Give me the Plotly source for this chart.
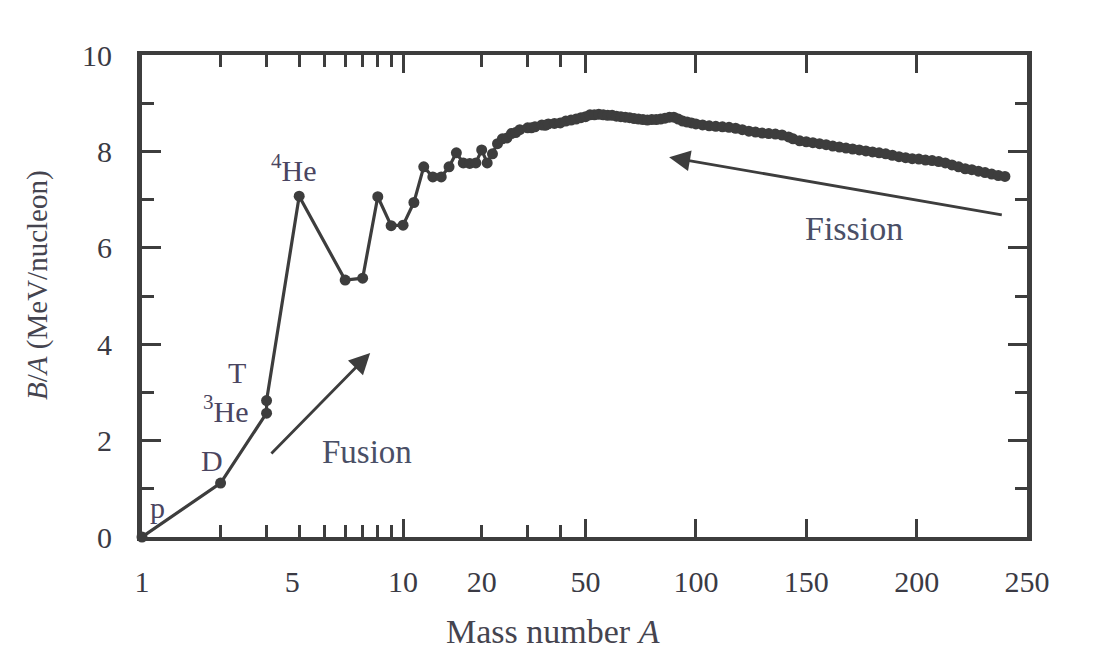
import numpy as np
import plotly.graph_objects as go

# ---------------- data ----------------
mass_number = [1, 2, 3, 3, 4, 6, 7, 8, 9, 10, 11, 12, 13, 14, 15, 16, 17, 18, 19, 20,
               21, 22, 23, 24, 25, 26, 27, 28, 30, 31, 32, 34, 35, 36, 38, 40, 42, 44,
               46, 48, 50, 52, 54, 56, 58, 60, 62, 64, 66, 68, 70, 72, 74, 76, 78, 80,
               82, 84, 86, 88, 90, 92, 94, 96, 98, 100, 103, 106, 109, 112, 115, 118,
               121, 124, 127, 130, 133, 136, 139, 142, 144, 147, 150, 153, 156, 159,
               162, 165, 168, 171, 174, 177, 180, 183, 186, 189, 192, 195, 198, 201,
               204, 207, 210, 213, 216, 219, 222, 225, 228, 231, 234, 237, 240]
binding_per_nucleon = [0.0, 1.12, 2.57, 2.83, 7.07, 5.33, 5.37, 7.06, 6.46, 6.47, 6.94,
                       7.68, 7.47, 7.47, 7.68, 7.97, 7.76, 7.75, 7.76, 8.03, 7.76, 7.95,
                       8.16, 8.26, 8.28, 8.37, 8.39, 8.45, 8.49, 8.49, 8.51, 8.55, 8.54,
                       8.57, 8.58, 8.59, 8.63, 8.65, 8.67, 8.70, 8.72, 8.76, 8.76, 8.77,
                       8.76, 8.75, 8.75, 8.73, 8.72, 8.71, 8.70, 8.68, 8.67, 8.66, 8.65,
                       8.66, 8.66, 8.67, 8.69, 8.71, 8.71, 8.67, 8.63, 8.61, 8.59, 8.57,
                       8.55, 8.53, 8.52, 8.51, 8.50, 8.48, 8.45, 8.42, 8.40, 8.38, 8.37,
                       8.36, 8.34, 8.30, 8.26, 8.22, 8.20, 8.18, 8.16, 8.14, 8.11, 8.09,
                       8.07, 8.05, 8.03, 8.01, 7.99, 7.97, 7.95, 7.92, 7.89, 7.87, 7.85,
                       7.84, 7.82, 7.81, 7.79, 7.76, 7.72, 7.68, 7.64, 7.62, 7.59, 7.56,
                       7.53, 7.50, 7.48]

x_major_ticks = [10, 50, 100, 150, 200]
x_minor_ticks = [2, 3, 4, 5, 6, 7, 8, 9, 20, 30, 40]
x_label_text = ["1", "5", "10", "20", "50", "100", "150", "200", "250"]
# where each printed label sits on the mass axis (the "5" is printed left of its tick)
x_label_at = [1, 3.76, 10, 20, 50, 100, 150, 200, 250]
y_major_ticks = [0, 2, 4, 6, 8, 10]

# ---------------- axis transform: log up to A=50, linear beyond ----------------
A_BREAK = 50.0
LIN_SLOPE = 0.008454  # axis units per nucleon beyond the break


def to_axis(a):
    a = np.asarray(a, dtype=float)
    return np.where(a <= A_BREAK, np.log10(a), np.log10(A_BREAK) + (a - A_BREAK) * LIN_SLOPE)


x_min, x_max = float(to_axis(1)), float(to_axis(250))

ink = "#3d3d3d"
text_col = "#45444f"
font_family = "Liberation Serif, Times New Roman, serif"

fig = go.Figure()
fig.add_trace(go.Scatter(
    x=to_axis(mass_number), y=binding_per_nucleon,
    mode="lines+markers",
    line=dict(color=ink, width=3.2),
    marker=dict(color=ink, size=11),
    cliponaxis=False, hoverinfo="skip", showlegend=False,
))
# helper trace so the label axis is drawn
fig.add_trace(go.Scatter(x=[x_min, x_max], y=[None, None], xaxis="x2", mode="markers",
                         showlegend=False, hoverinfo="skip"))

fig.update_layout(
    width=1099, height=657,
    margin=dict(l=134, r=80, t=47, b=128),
    paper_bgcolor="white", plot_bgcolor="white",
    font=dict(family=font_family, color=text_col, size=28),
    showlegend=False,
    xaxis=dict(
        range=[x_min, x_max], showgrid=False, zeroline=False,
        showline=True, linecolor=ink, linewidth=4, mirror="ticks",
        ticks="inside", ticklen=18, tickwidth=2.5, tickcolor=ink,
        tickvals=list(to_axis(x_major_ticks)), showticklabels=False,
        minor=dict(tickvals=list(to_axis(x_minor_ticks)), ticks="inside",
                   ticklen=12, tickwidth=2.5, tickcolor=ink),
    ),
    xaxis2=dict(
        overlaying="x", anchor="y", side="bottom",
        range=[x_min, x_max], showgrid=False, zeroline=False, showline=False,
        ticks="", tickvals=list(to_axis(x_label_at)), ticktext=x_label_text,
        tickfont=dict(size=30, color="#3a3a44"), ticklabelstandoff=24,
    ),
    yaxis=dict(
        range=[0, 10], showgrid=False, zeroline=False,
        showline=True, linecolor=ink, linewidth=5, mirror="ticks",
        ticks="inside", ticklen=19, tickwidth=2.5, tickcolor=ink,
        tickvals=y_major_ticks, tickfont=dict(size=30, color="#3a3a44"),
        ticklabelstandoff=19,
        minor=dict(dtick=1, ticks="inside", ticklen=12, tickwidth=2.5, tickcolor=ink),
    ),
)

# axis titles
fig.add_annotation(text="Mass number <i>A</i>", xref="paper", yref="paper",
                   x=0.464, y=-0.197, xanchor="center", yanchor="middle",
                   showarrow=False, font=dict(size=34))
fig.add_annotation(text="<i>B</i>/<i>A</i> (MeV/nucleon)", xref="paper", yref="paper",
                   x=-0.1175, y=0.523, xanchor="center", yanchor="middle",
                   textangle=-90, showarrow=False, font=dict(size=29))

# point labels
point_labels = [
    ("p", 0.058, 0.62), ("D", 0.27, 1.58), ("T", 0.364, 3.42),
    ("<sup>3</sup>He", 0.318, 2.66), ("<sup>4</sup>He", 0.582, 7.65),
]
for txt, ux, by in point_labels:
    fig.add_annotation(text=txt, x=ux, y=by, xref="x", yref="y", showarrow=False,
                       font=dict(size=30, color="#4a4560"))

fig.add_annotation(text="Fusion", x=0.862, y=1.76, showarrow=False, font=dict(size=33, color="#4a4f66"))
fig.add_annotation(text="Fission", x=2.728, y=6.41, showarrow=False, font=dict(size=34, color="#4a4f66"))

# arrows
fig.add_annotation(x=0.874, y=3.82, ax=0.490, ay=1.70, xref="x", yref="y", axref="x", ayref="y",
                   text="", showarrow=True, arrowhead=2, arrowsize=1.5, arrowwidth=2.8, arrowcolor=ink)
fig.add_annotation(x=2.019, y=7.88, ax=3.299, ay=6.68, xref="x", yref="y", axref="x", ayref="y",
                   text="", showarrow=True, arrowhead=2, arrowsize=1.5, arrowwidth=2.8, arrowcolor=ink)

fig.write_html("out.html")
